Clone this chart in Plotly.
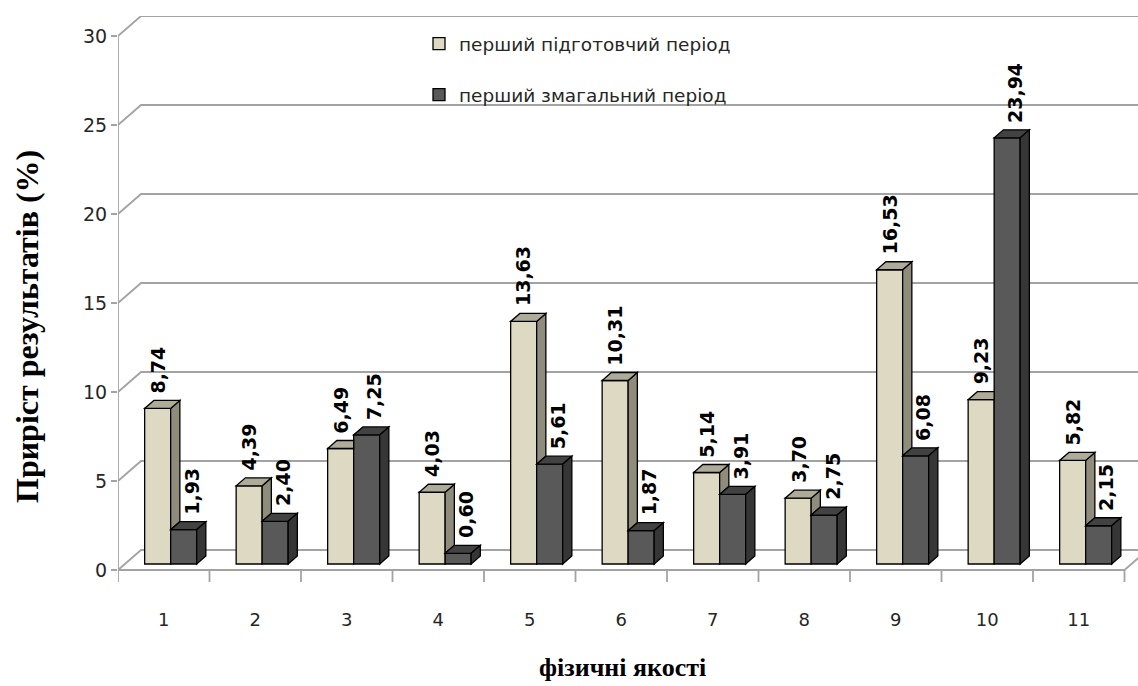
import plotly.graph_objects as go

# ---- data -------------------------------------------------------------
categories = list(range(1, 12))
category_labels = [str(c) for c in categories]
prep_period = [8.74, 4.39, 6.49, 4.03, 13.63, 10.31, 5.14, 3.70, 16.53, 9.23, 5.82]
comp_period = [1.93, 2.40, 7.25, 0.60, 5.61, 1.87, 3.91, 2.75, 6.08, 23.94, 2.15]
series_names = ["перший підготовчий період", "перший змагальний період"]
y_ticks = [0, 5, 10, 15, 20, 25, 30]

# ---- geometry of the pseudo-3D box (in axis units) ---------------------
W, H = 1138, 686
M_L, M_R, M_T, M_B = 118, 0, 16, 104
PX_PER_CAT = 91.5
PX_PER_UNIT = 17.8
X_MIN = 0.5
X_MAX = X_MIN + (W - M_L - M_R) / PX_PER_CAT
Y_MIN = -12 / PX_PER_UNIT
Y_MAX = Y_MIN + (H - M_T - M_B) / PX_PER_UNIT

WALL_DX = 23 / PX_PER_CAT      # depth of the box, horizontal part
WALL_DY = 20 / PX_PER_UNIT     # depth of the box, vertical part
BAR_FRONT = 0.3                # bars start at 30 % of the depth
BAR_DEPTH = 0.4                # and are 40 % deep
SHIFT_X = WALL_DX * BAR_FRONT
BASE = WALL_DY * BAR_FRONT
BDX = WALL_DX * BAR_DEPTH
BDY = WALL_DY * BAR_DEPTH
BAR_W = 26 / PX_PER_CAT

C_LIGHT = "#ddd9c3"
C_LIGHT_SIDE = "#8f8c7b"
C_LIGHT_TOP = "#aeab98"
C_DARK = "#595959"
C_DARK_SIDE = "#363636"
C_DARK_TOP = "#424242"
C_GRID = "#a3a3a3"
C_TEXT = "#262626"
EDGE = dict(color="black", width=1.3)

PLOT_W = W - M_L - M_R
PLOT_H = H - M_T - M_B

fig = go.Figure()

fig.add_trace(go.Bar(
    x=categories, y=prep_period, base=BASE, width=BAR_W,
    offset=SHIFT_X - BAR_W, name=series_names[0], legendgroup="a",
    marker=dict(color=C_LIGHT, line=EDGE),
))
fig.add_trace(go.Bar(
    x=categories, y=comp_period, base=BASE, width=BAR_W,
    offset=SHIFT_X, name=series_names[1], legendgroup="b",
    marker=dict(color=C_DARK, line=EDGE),
))


def poly(points):
    return "M " + " L ".join(f"{px:.4f},{py:.4f}" for px, py in points) + " Z"


shapes = []

# back wall gridlines with their slanted links to the front axis
for v in y_ticks:
    shapes.append(dict(
        type="path", layer="below",
        path=f"M {X_MIN},{v} L {X_MIN + WALL_DX},{v + WALL_DY} L {X_MAX + 1},{v + WALL_DY}",
        line=dict(color=C_GRID, width=1.8),
    ))

n_cat = len(categories)
right_edge = categories[-1] + 0.5
# front axis lines and right edge of the floor
shapes.append(dict(type="line", layer="below", x0=X_MIN, x1=X_MIN, y0=0, y1=y_ticks[-1],
                   line=dict(color=C_GRID, width=1.8)))
shapes.append(dict(type="line", layer="below", x0=X_MIN, x1=right_edge, y0=0, y1=0,
                   line=dict(color=C_GRID, width=1.8)))
shapes.append(dict(type="line", layer="below", x0=right_edge, x1=right_edge + WALL_DX,
                   y0=0, y1=WALL_DY, line=dict(color=C_GRID, width=1.8)))
# category tick marks on the boundaries
for k in range(n_cat + 1):
    b = categories[0] - 0.5 + k
    shapes.append(dict(type="line", layer="below", x0=b, x1=b, y0=0, y1=Y_MIN,
                       line=dict(color=C_GRID, width=1.8)))

# top and side faces of the columns
for c, a, d in zip(categories, prep_period, comp_period):
    x0 = c + SHIFT_X - BAR_W
    x1 = c + SHIFT_X
    x2 = x1 + BAR_W
    ta = BASE + a
    td = BASE + d
    if a > d:
        shapes.append(dict(type="path", layer="above", fillcolor=C_LIGHT_SIDE, line=EDGE,
                           path=poly([(x1, td), (x1, ta), (x1 + BDX, ta + BDY), (x1 + BDX, td + BDY)])))
        shapes.append(dict(type="path", layer="above", fillcolor=C_LIGHT_TOP, line=EDGE,
                           path=poly([(x0, ta), (x1, ta), (x1 + BDX, ta + BDY), (x0 + BDX, ta + BDY)])))
    else:
        shapes.append(dict(type="path", layer="above", fillcolor=C_LIGHT_TOP, line=EDGE,
                           path=poly([(x0, ta), (x1, ta), (x1, ta + BDY), (x0 + BDX, ta + BDY)])))
    shapes.append(dict(type="path", layer="above", fillcolor=C_DARK_TOP, line=EDGE,
                       path=poly([(x1, td), (x2, td), (x2 + BDX, td + BDY), (x1 + BDX, td + BDY)])))
    shapes.append(dict(type="path", layer="above", fillcolor=C_DARK_SIDE, line=EDGE,
                       path=poly([(x2, BASE), (x2, td), (x2 + BDX, td + BDY), (x2 + BDX, BASE + BDY)])))

# value labels above the columns
annotations = []
label_font = dict(family="DejaVu Sans", size=19, color="black")
for c, a, d in zip(categories, prep_period, comp_period):
    for v, xc, xs in ((a, c + SHIFT_X - BAR_W / 2, 0), (d, c + SHIFT_X + BAR_W / 2, 8)):
        annotations.append(dict(
            x=xc, y=BASE + v + BDY, xref="x", yref="y",
            text=f"<b>{v:.2f}</b>".replace(".", ","), textangle=-90,
            showarrow=False, xanchor="center", yanchor="bottom",
            xshift=xs, yshift=5, font=label_font,
        ))

# axis titles
annotations.append(dict(
    x=-91 / PLOT_W, y=(582 - 327) / PLOT_H, xref="paper", yref="paper",
    text="<b>Приріст результатів (%)</b>", textangle=-90, showarrow=False,
    xanchor="center", yanchor="middle",
    font=dict(family="Liberation Serif", size=32, color="black"),
))
annotations.append(dict(
    x=(622 - M_L) / PLOT_W, y=-(667 - 582) / PLOT_H, xref="paper", yref="paper",
    text="<b>фізичні якості</b>", showarrow=False,
    xanchor="center", yanchor="middle",
    font=dict(family="Liberation Serif", size=26, color="black"),
))

fig.update_layout(
    width=W, height=H,
    margin=dict(l=M_L, r=M_R, t=M_T, b=M_B),
    paper_bgcolor="white", plot_bgcolor="white",
    barmode="overlay",
    shapes=shapes, annotations=annotations,
    showlegend=True,
    legend=dict(
        x=(419 - M_L) / PLOT_W, y=(582 - 25) / PLOT_H,
        xanchor="left", yanchor="top", bgcolor="rgba(0,0,0,0)",
        tracegroupgap=24, traceorder="grouped",
        font=dict(family="DejaVu Sans", size=18.5, color=C_TEXT),
    ),
    xaxis=dict(
        range=[X_MIN, X_MAX], tickvals=categories, ticktext=category_labels,
        showgrid=False, zeroline=False, showline=False, ticks="",
        ticklabelstandoff=25,
        tickfont=dict(family="DejaVu Sans", size=18, color=C_TEXT),
    ),
    yaxis=dict(
        range=[Y_MIN, Y_MAX], tickvals=y_ticks, ticktext=[str(t) for t in y_ticks],
        showgrid=False, zeroline=False, showline=False,
        ticks="outside", ticklen=6, tickwidth=1.8, tickcolor=C_GRID,
        tickfont=dict(family="DejaVu Sans", size=19, color=C_TEXT),
    ),
)

fig.write_html("out.html")
